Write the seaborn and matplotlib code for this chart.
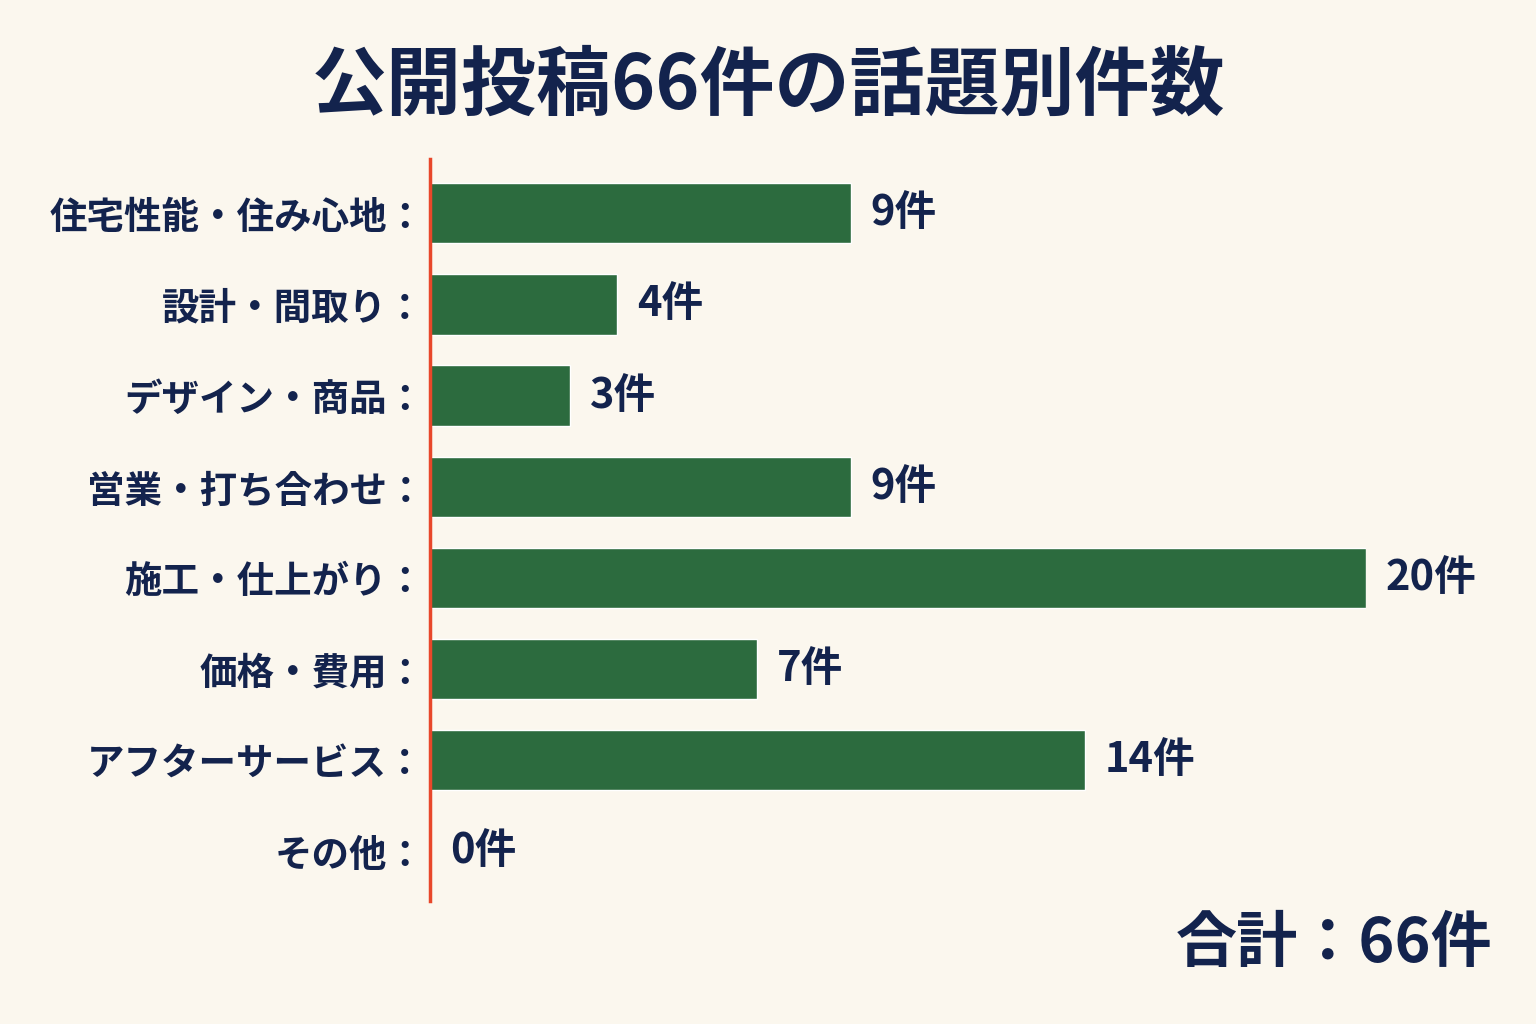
import matplotlib
matplotlib.use("Agg")
import matplotlib.pyplot as plt
import seaborn as sns
import pandas as pd

categories = ["住宅性能・住み心地", "設計・間取り", "デザイン・商品", "営業・打ち合わせ",
              "施工・仕上がり", "価格・費用", "アフターサービス", "その他"]
counts = [9, 4, 3, 9, 20, 7, 14, 0]
title = "公開投稿66件の話題別件数"
total_label = "合計：66件"

sns.set_theme(style="white")
plt.rcParams['font.family'] = ['Noto Sans CJK JP', 'DejaVu Sans']

bg = "#fbf7ee"
navy = "#13234d"
df = pd.DataFrame({"cat": categories, "n": counts})

fig = plt.figure(figsize=(15.36, 10.24), dpi=100, facecolor=bg)
ax = fig.add_axes([0.28, 0.12, 0.609, 0.725], facecolor=bg)
sns.barplot(data=df, y="cat", x="n", color="#2c6b3e", width=0.66, ax=ax, saturation=1)
ax.set_xlim(0, 20)
ax.set_ylim(7.55, -0.6)
ax.set_xlabel(""); ax.set_ylabel("")
ax.set_xticks([])
ax.set_yticks(range(len(categories)))
ax.set_yticklabels([c + "：" for c in categories], fontsize=27, fontweight="bold", color=navy)
ax.tick_params(axis="y", length=0, pad=4)
for s in ["top", "right", "bottom"]:
    ax.spines[s].set_visible(False)
ax.spines["left"].set_color("#e8472a")
ax.spines["left"].set_linewidth(2.5)
for i, v in enumerate(counts):
    ax.text(v + 0.42, i, f"{v}件", va="center", ha="left", fontsize=30, fontweight="bold", color=navy)
fig.text(0.5, 0.915, title, ha="center", va="center", fontsize=54, fontweight="bold", color=navy)
fig.text(0.972, 0.078, total_label, ha="right", va="center", fontsize=44, fontweight="bold", color=navy)
fig.savefig("out.png", facecolor=bg)
